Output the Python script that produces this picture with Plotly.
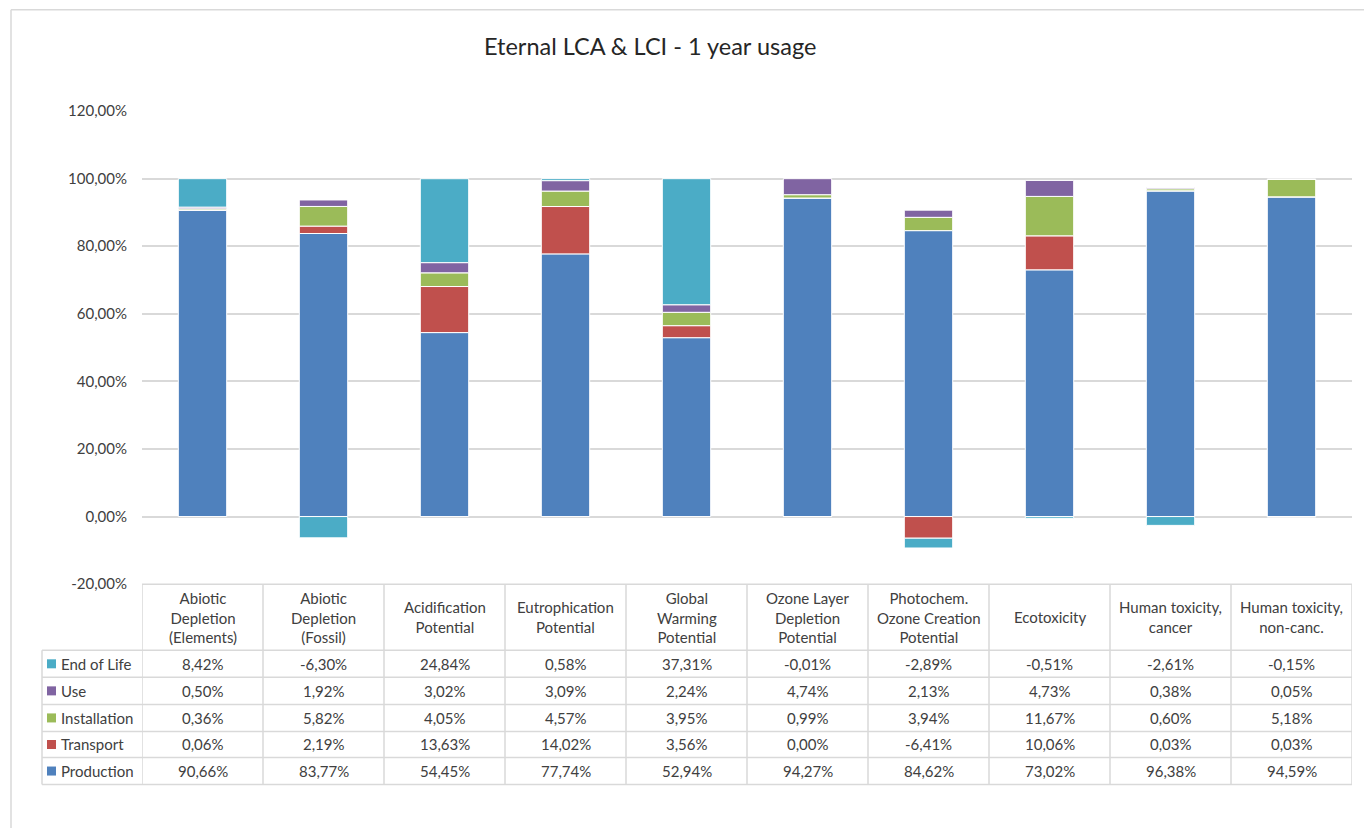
import plotly.graph_objects as go

W = 1364
REF_H = 828   # reference picture height (positions below are in its pixels)
H = 836       # figure height; the viewer squeezes the page into 828 px

categories = [
    "Abiotic<br>Depletion<br>(Elements)",
    "Abiotic<br>Depletion<br>(Fossil)",
    "Acidification<br>Potential",
    "Eutrophication<br>Potential",
    "Global<br>Warming<br>Potential",
    "Ozone Layer<br>Depletion<br>Potential",
    "Photochem.<br>Ozone Creation<br>Potential",
    "Ecotoxicity",
    "Human toxicity,<br>cancer",
    "Human toxicity,<br>non-canc.",
]

production = [90.66, 83.77, 54.45, 77.74, 52.94, 94.27, 84.62, 73.02, 96.38, 94.59]
transport = [0.06, 2.19, 13.63, 14.02, 3.56, 0.00, -6.41, 10.06, 0.03, 0.03]
installation = [0.36, 5.82, 4.05, 4.57, 3.95, 0.99, 3.94, 11.67, 0.60, 5.18]
use = [0.50, 1.92, 3.02, 3.09, 2.24, 4.74, 2.13, 4.73, 0.38, 0.05]
end_of_life = [8.42, -6.30, 24.84, 0.58, 37.31, -0.01, -2.89, -0.51, -2.61, -0.15]

series_names = ["Production", "Transport", "Installation", "Use", "End of Life"]
series_values = [production, transport, installation, use, end_of_life]
series_colors = ["#4F81BD", "#C0504D", "#9BBB59", "#8064A2", "#4BACC6"]

y_ticks = [-20, 0, 20, 40, 60, 80, 100, 120]
y_ticktext = ["-20,00%", "0,00%", "20,00%", "40,00%", "60,00%", "80,00%", "100,00%", "120,00%"]

title = "Eternal LCA & LCI - 1 year usage"

def px(x):
    return x / W

def py(y):
    # map a reference pixel row to paper fraction, compensating the viewer's offset/squeeze
    d = (y - 10.1) / 0.987
    d = max(d, 0.8)
    return 1 - d / REF_H

# layout pixel geometry (reference pixels)
PLOT_L, PLOT_R = 142, 1352
PLOT_T, PLOT_B = 111.3, 584
HEADER_B = 650
ROW_LINES = [650, 677, 704, 731, 757, 784]
LEG_L = 42
GRID = "#D9D9D9"
TXT = "#404040"
FONT = "Lato"
FS = 15

fig = go.Figure()
for name, vals, col in zip(series_names, series_values, series_colors):
    fig.add_trace(go.Bar(
        x=categories, y=vals, name=name, width=0.4,
        marker=dict(color=col, line=dict(color="white", width=1)),
        showlegend=False,
    ))

shapes = []
annotations = []

# outer chart border (left and top edges visible)
shapes.append(dict(type="line", xref="paper", yref="paper",
                   x0=px(11), x1=px(11), y0=0, y1=py(7),
                   line=dict(color=GRID, width=1.5), layer="below"))
shapes.append(dict(type="line", xref="paper", yref="paper",
                   x0=px(11), x1=1, y0=py(7), y1=py(7),
                   line=dict(color=GRID, width=1.5), layer="below"))

# table: header top line
shapes.append(dict(type="line", xref="paper", yref="paper",
                   x0=px(PLOT_L), x1=px(PLOT_R), y0=py(PLOT_B), y1=py(PLOT_B),
                   line=dict(color=GRID, width=1.5)))
# row lines
for yl in ROW_LINES:
    shapes.append(dict(type="line", xref="paper", yref="paper",
                       x0=px(LEG_L), x1=px(PLOT_R), y0=py(yl), y1=py(yl),
                       line=dict(color=GRID, width=1.5)))
# legend column left border
shapes.append(dict(type="line", xref="paper", yref="paper",
                   x0=px(LEG_L), x1=px(LEG_L), y0=py(ROW_LINES[0]), y1=py(ROW_LINES[-1]),
                   line=dict(color=GRID, width=1.5)))
# column borders
for i in range(len(categories) + 1):
    shapes.append(dict(type="line", xref="x", yref="paper",
                       x0=i - 0.5, x1=i - 0.5, y0=py(ROW_LINES[-1]), y1=py(PLOT_B),
                       line=dict(color=GRID, width=1.5)))

# header texts
for c in categories:
    annotations.append(dict(x=c, xref="x", y=py((PLOT_B + HEADER_B) / 2), yref="paper",
                            text=c, showarrow=False, xanchor="center", yanchor="middle",
                            font=dict(family=FONT, size=FS, color=TXT)))

# rows (top to bottom: End of Life ... Production)
row_order = list(range(len(series_names)))[::-1]
for r, si in enumerate(row_order):
    yc = (ROW_LINES[r] + ROW_LINES[r + 1]) / 2
    # legend key
    shapes.append(dict(type="rect", xref="paper", yref="paper",
                       x0=px(47), x1=px(56), y0=py(yc + 4.5), y1=py(yc - 4.5),
                       fillcolor=series_colors[si], line=dict(width=0)))
    annotations.append(dict(x=px(59), xref="paper", y=py(yc), yref="paper",
                            text=series_names[si], showarrow=False, xanchor="left", yanchor="middle",
                            font=dict(family=FONT, size=FS, color=TXT)))
    for c, v in zip(categories, series_values[si]):
        annotations.append(dict(x=c, xref="x", y=py(yc), yref="paper",
                                text=f"{v:.2f}%".replace(".", ","), showarrow=False,
                                xanchor="center", yanchor="middle",
                                font=dict(family=FONT, size=FS, color=TXT)))

# title
annotations.append(dict(x=px(650), xref="paper", y=py(47), yref="paper", text=title,
                        showarrow=False, xanchor="center", yanchor="middle",
                        font=dict(family=FONT, size=23.5, color="#262626")))

fig.update_layout(
    width=W, height=H,
    margin=dict(l=0, r=0, t=0, b=0),
    paper_bgcolor="white", plot_bgcolor="white",
    barmode="relative",
    bargap=0.6,
    shapes=shapes,
    annotations=annotations,
    xaxis=dict(domain=[px(PLOT_L), px(PLOT_R)], range=[-0.5, len(categories) - 0.5],
               showticklabels=False, showgrid=False, zeroline=False, showline=False, ticks=""),
    yaxis=dict(domain=[py(PLOT_B), py(PLOT_T)], range=[-20, 120.2],
               tickvals=y_ticks, ticktext=y_ticktext,
               tickfont=dict(family=FONT, size=FS, color="#404040"),
               showgrid=True, gridcolor=GRID, gridwidth=1.5,
               zeroline=True, zerolinecolor=GRID, zerolinewidth=1.5,
               showline=False, ticks="", ticklabelstandoff=14),
    font=dict(family=FONT),
)

fig.write_html("out.html")
